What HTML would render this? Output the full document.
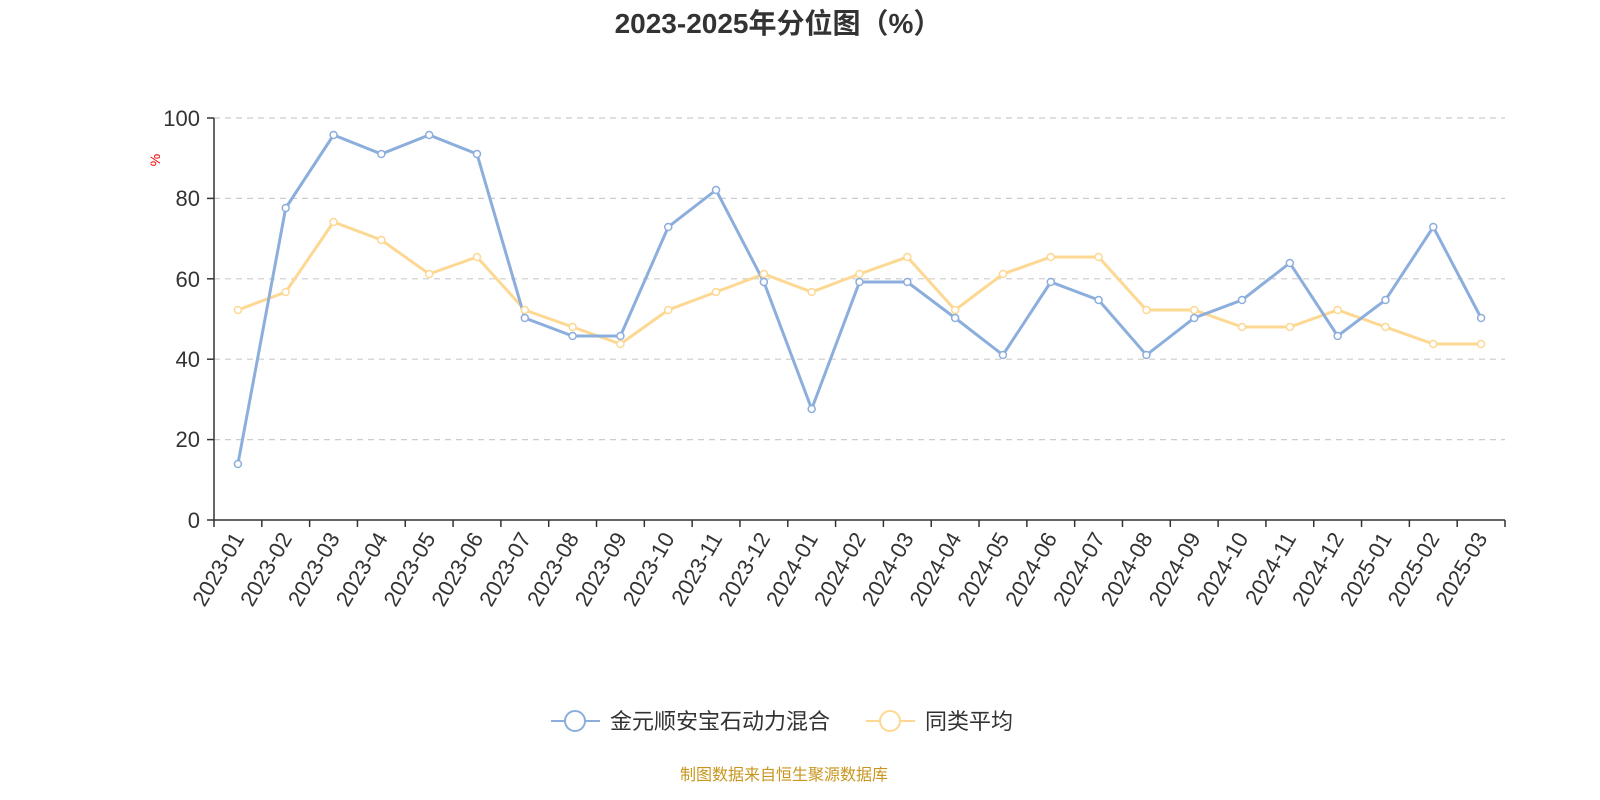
<!DOCTYPE html>
<html><head><meta charset="utf-8"><style>
html,body{margin:0;padding:0;background:#fff;}
svg{display:block;font-family:"Liberation Sans","Noto Sans CJK SC",sans-serif;}
</style></head><body>
<svg width="1600" height="800" viewBox="0 0 1600 800" xmlns="http://www.w3.org/2000/svg">
<text x="778" y="33" text-anchor="middle" font-size="28" font-weight="bold" fill="#333">2023-2025年分位图（%）</text>
<text x="160" y="160" font-size="14" fill="#e00" transform="rotate(-90 160 160)" text-anchor="middle">%</text>
<g stroke="#ccc" stroke-width="1.2" stroke-dasharray="6,5">
<line x1="214" y1="118" x2="1505" y2="118"/><line x1="214" y1="198.4" x2="1505" y2="198.4"/><line x1="214" y1="278.8" x2="1505" y2="278.8"/><line x1="214" y1="359.2" x2="1505" y2="359.2"/><line x1="214" y1="439.6" x2="1505" y2="439.6"/>
</g>
<g font-size="22" fill="#333" text-anchor="end">
<text x="200" y="126">100</text><text x="200" y="206">80</text><text x="200" y="287">60</text><text x="200" y="367">40</text><text x="200" y="447">20</text><text x="200" y="528">0</text>
</g>
<g stroke="#333" stroke-width="1.5">
<line x1="214" y1="118" x2="214" y2="520"/><line x1="207" y1="118" x2="214" y2="118"/><line x1="207" y1="198.4" x2="214" y2="198.4"/><line x1="207" y1="278.8" x2="214" y2="278.8"/><line x1="207" y1="359.2" x2="214" y2="359.2"/><line x1="207" y1="439.6" x2="214" y2="439.6"/><line x1="207" y1="520" x2="214" y2="520"/>
<line x1="214" y1="520" x2="1505" y2="520"/>
</g>
<g id="ticks" stroke="#333" stroke-width="1.5"></g>
<g id="labels" font-size="22" fill="#333" text-anchor="end"></g>
<polyline id="yl" fill="none" stroke="#fdd893" stroke-width="3"/>
<polyline id="bl" fill="none" stroke="#8caedc" stroke-width="3"/>
<g id="yc"></g><g id="bc"></g>
<line x1="551" y1="721" x2="600" y2="721" stroke="#8caedc" stroke-width="2"/>
<circle cx="575" cy="721" r="10" fill="#fff" stroke="#8caedc" stroke-width="2"/>
<text x="610" y="729" font-size="22" fill="#333">金元顺安宝石动力混合</text>
<line x1="866" y1="721" x2="915" y2="721" stroke="#fdd893" stroke-width="2"/>
<circle cx="890" cy="721" r="10" fill="#fff" stroke="#fdd893" stroke-width="2"/>
<text x="925" y="729" font-size="22" fill="#333">同类平均</text>
<text x="784" y="780" text-anchor="middle" font-size="16" fill="#c8961e">制图数据来自恒生聚源数据库</text>
<script>
var ns="http://www.w3.org/2000/svg";
var b=[464,208,135,154,135,154,318,336,336,227,190,282,409,282,282,318,355,282,300,355,318,300,263,336,300,227,318];
var y=[310,292,222,240,274,257,310,327,344,310,292,274,292,274,257,310,274,257,257,310,310,327,327,310,327,344,344];
var labs=[];for(var yr=2023;yr<=2025;yr++){for(var m=1;m<=12;m++){if(yr==2025&&m>3)break;labs.push(yr+"-"+(m<10?"0":"")+m);}}
var w=1291/27;
function el(t,a,p){var e=document.createElementNS(ns,t);for(var k in a)e.setAttribute(k,a[k]);document.getElementById(p).appendChild(e);return e;}
for(var k=0;k<=27;k++){var x=214+k*w;el("line",{x1:x,y1:520,x2:x,y2:527},"ticks");}
var bp=[],yp=[];
for(var i=0;i<27;i++){var x=214+w/2+i*w;bp.push(x+","+b[i]);yp.push(x+","+y[i]);
var t=el("text",{x:x+7,y:538,transform:"rotate(-60 "+(x+7)+" 538)"},"labels");t.textContent=labs[i];
el("circle",{cx:x,cy:y[i],r:3.5,fill:"#fff",stroke:"#fdd893","stroke-width":1.5},"yc");
el("circle",{cx:x,cy:b[i],r:3.5,fill:"#fff",stroke:"#8caedc","stroke-width":1.5},"bc");}
document.getElementById("bl").setAttribute("points",bp.join(" "));
document.getElementById("yl").setAttribute("points",yp.join(" "));
</script>
</svg>
</body></html>
